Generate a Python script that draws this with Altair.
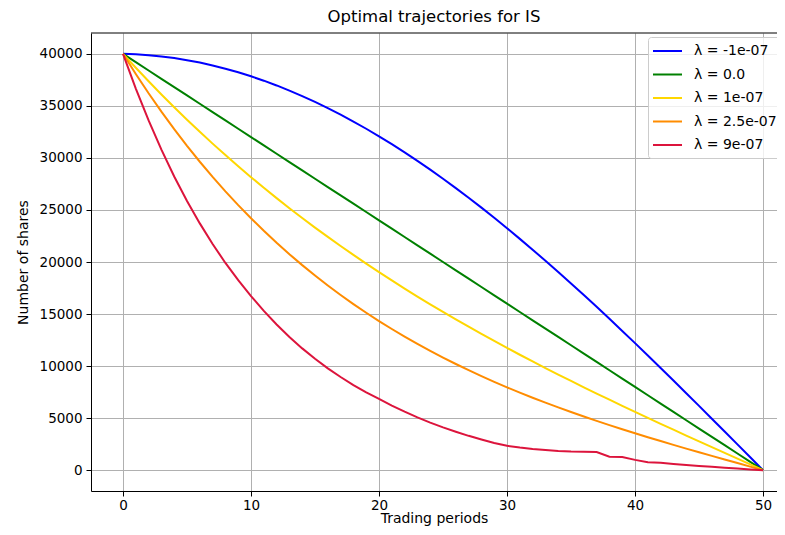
import altair as alt
import pandas as pd

periods = list(range(51))

labels = ["λ = -1e-07", "λ = 0.0", "λ = 1e-07", "λ = 2.5e-07", "λ = 9e-07"]
colors = ["#0000ff", "#008000", "#ffd700", "#ff8c00", "#dc143c"]

blue = [40000, 39955, 39871, 39750, 39590, 39392, 39156, 38883, 38572, 38224,
        37840, 37419, 36962, 36469, 35942, 35380, 34785, 34156, 33494, 32801,
        32072, 31319, 30536, 29721, 28880, 28001, 27101, 26174, 25221, 24245,
        23247, 22223, 21180, 20118, 19041, 17942, 16824, 15691, 14542, 13380,
        12205, 11018, 9821, 8614, 7399, 6177, 4948, 3716, 2479, 1240, 0]

green = [40000, 39200, 38400, 37600, 36800, 36000, 35200, 34400, 33600, 32800,
         32000, 31200, 30400, 29600, 28800, 28000, 27200, 26400, 25600, 24800,
         24000, 23200, 22400, 21600, 20800, 20000, 19200, 18400, 17600, 16800,
         16000, 15200, 14400, 13600, 12800, 12000, 11200, 10400, 9600, 8800,
         8000, 7200, 6400, 5600, 4800, 4000, 3200, 2400, 1600, 800, 0]

yellow = [40000, 38662, 37362, 36097, 34866, 33670, 32505, 31372, 30270, 29195,
          28149, 27130, 26138, 25171, 24228, 23307, 22410, 21533, 20678, 19843,
          19025, 18227, 17447, 16683, 15935, 15203, 14485, 13781, 13091, 12412,
          11744, 11089, 10445, 9811, 9186, 8570, 7962, 7363, 6769, 6182,
          5601, 5026, 4455, 3889, 3326, 2767, 2211, 1656, 1103, 551, 0]

orange = [40000, 38058, 36207, 34443, 32762, 31159, 29632, 28176, 26787, 25463,
          24199, 22994, 21844, 20747, 19699, 18699, 17743, 16830, 15958, 15124,
          14326, 13562, 12832, 12131, 11461, 10817, 10200, 9607, 9037, 8489,
          7961, 7452, 6962, 6488, 6029, 5585, 5155, 4736, 4330, 3933,
          3546, 3168, 2797, 2433, 2074, 1721, 1372, 1026, 683, 341, 0]

red = [40000, 36660, 33600, 30790, 28220, 25870, 23710, 21730, 19910, 18250,
       16730, 15300, 13990, 12790, 11700, 10700, 9780, 8950, 8180, 7480,
       6840, 6210, 5620, 5070, 4570, 4110, 3690, 3300, 2950, 2620,
       2340, 2170, 2040, 1940, 1850, 1790, 1770, 1750, 1300, 1270,
       990, 760, 710, 600, 500, 400, 320, 240, 150, 70, 0]

series = [blue, green, yellow, orange, red]

rows = []
for lab, vals in zip(labels, series):
    for t, v in zip(periods, vals):
        rows.append({"t": t, "shares": v, "lam": lab})
df = pd.DataFrame(rows)

W, H = 686, 458

lines = alt.Chart(df).mark_line(strokeWidth=2).encode(
    x=alt.X("t:Q",
            scale=alt.Scale(domain=[-2.5, 51.09], nice=False, zero=False),
            axis=alt.Axis(title="Trading periods", values=[0, 10, 20, 30, 40, 50],
                          format="d", labelPadding=2, titlePadding=0)),
    y=alt.Y("shares:Q",
            scale=alt.Scale(domain=[-2000, 42000], nice=False, zero=False),
            axis=alt.Axis(title="Number of shares",
                          values=[0, 5000, 10000, 15000, 20000, 25000, 30000, 35000, 40000],
                          format="d", labelPadding=4, titlePadding=9)),
    color=alt.Color("lam:N",
                    scale=alt.Scale(domain=labels, range=colors),
                    sort=labels,
                    legend=alt.Legend(title=None, orient="none", legendX=557, legendY=4,
                                      symbolType="M-1.29,0H2.86", symbolSize=196,
                                      symbolStrokeWidth=2, padding=6, rowPadding=8.5,
                                      labelOffset=24, labelFontSize=14,
                                      labelFont="DejaVu Sans", labelColor="black",
                                      labelLimit=300,
                                      strokeColor="#cccccc",
                                      fillColor="rgba(255,255,255,0.8)",
                                      cornerRadius=3)),
    detail="lam:N",
)

frame = alt.Chart(pd.DataFrame({"a": [0]})).mark_rule(color="black", strokeWidth=1).encode(
    x=alt.value(0), x2=alt.value(W), y=alt.value(0)
)

chart = alt.layer(lines, frame).properties(
    width=W, height=H,
    title=alt.TitleParams("Optimal trajectories for IS", font="DejaVu Sans", fontSize=16.5,
                          fontWeight="normal", color="black", anchor="middle",
                          offset=7),
    autosize=alt.AutoSizeParams(type="none"),
    padding={"left": 83, "top": 25, "right": 0, "bottom": 36},
).configure_view(stroke=None).configure_axis(
    domainColor="black", domainWidth=1, tickColor="black", tickSize=5, tickWidth=1,
    gridColor="#b0b0b0", gridWidth=1, labelFont="DejaVu Sans", labelFontSize=13.5,
    labelColor="black", titleFont="DejaVu Sans", titleFontSize=14,
    titleFontWeight="normal", titleColor="black",
)

chart.save("out.html", embed_options={"renderer": "svg", "actions": False})
